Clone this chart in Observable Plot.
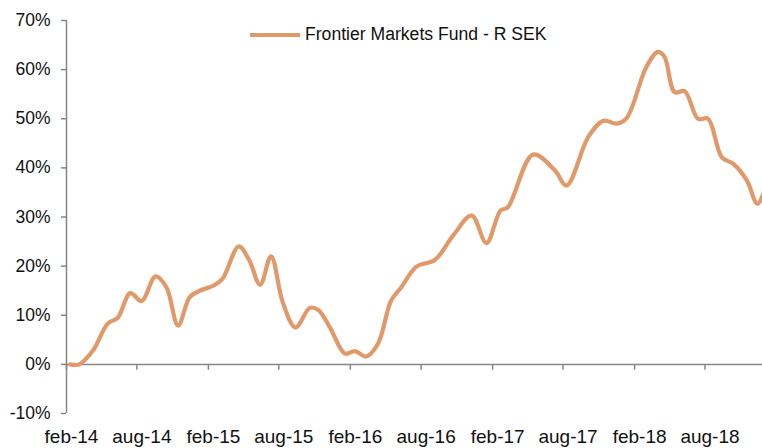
<!DOCTYPE html>
<html><head><meta charset="utf-8">
<script src="https://cdn.jsdelivr.net/npm/d3@7"></script>
<script src="https://cdn.jsdelivr.net/npm/@observablehq/plot@0.6"></script>
<style>
html,body{margin:0;padding:0;background:#fff;}
#wrap{position:relative;width:762px;height:448px;overflow:hidden;font-family:"Liberation Sans",Arial,sans-serif;}
#legend{position:absolute;left:250px;top:24px;display:flex;align-items:center;font-size:17.6px;color:#111;white-space:nowrap;}
#legend svg{margin-right:5px;}
</style></head><body><div id="wrap"><div id="legend"></div></div>
<script>
const seriesName = "Frontier Markets Fund - R SEK";
const seriesColor = "#E2996A";
const dates = ["2014-02-10","2014-03-06","2014-04-10","2014-05-18","2014-06-13","2014-07-15","2014-08-13","2014-09-18","2014-10-16","2014-11-15","2014-12-15","2015-01-10","2015-02-13","2015-03-09","2015-04-20","2015-05-17","2015-06-14","2015-07-12","2015-08-11","2015-09-13","2015-10-20","2015-11-10","2015-12-10","2016-01-18","2016-02-13","2016-03-13","2016-04-12","2016-05-16","2016-06-11","2016-07-20","2016-09-06","2016-10-23","2016-12-09","2017-01-16","2017-02-21","2017-03-12","2017-05-16","2017-07-11","2017-08-10","2017-10-05","2017-11-13","2017-12-17","2018-01-12","2018-03-03","2018-04-02","2018-04-19","2018-05-15","2018-06-10","2018-07-14","2018-08-09","2018-09-13","2018-10-13","2018-11-17","2018-12-14","2019-01-08"];
const values = [0,0,2.8,8.3,9.5,14.5,12.9,17.9,15.7,7.9,13.7,15.0,16.0,17.4,24.0,21.2,16.2,22.0,12.7,7.5,11.5,11.1,7.6,2.2,2.7,1.6,4.2,13.0,15.7,19.9,21.3,26.3,30.3,24.7,31.3,32.0,42.7,39.5,36.4,46.3,49.6,49.0,50.2,60.5,63.6,62.6,55.4,55.6,50.0,50.0,42.2,40.8,37.4,32.7,37.0];
const tickDates = ["2014-02-01","2014-08-01","2015-02-01","2015-08-01","2016-02-01","2016-08-01","2017-02-01","2017-08-01","2018-02-01","2018-08-01"];
const tickLabels = ["feb-14","aug-14","feb-15","aug-15","feb-16","aug-16","feb-17","aug-17","feb-18","aug-18"];
const yTicks = [-10,0,10,20,30,40,50,60,70];
const xStart = "2014-02-01";
const xEnd = "2018-12-27";

const data = dates.map((d, i) => ({date: new Date(d), value: values[i]}));
const ticks = tickDates.map(d => new Date(d));
const labelMap = new Map(ticks.map((d, i) => [+d, tickLabels[i]]));
const axisColor = "#868686";

const chart = Plot.plot({
  width: 762, height: 448,
  marginLeft: 66, marginRight: 0, marginTop: 20, marginBottom: 35,
  style: {fontFamily: '"Liberation Sans", Arial, sans-serif', color: "#111", background: "#fff"},
  x: {type: "utc", domain: [new Date(xStart), new Date(xEnd)]},
  y: {domain: [-10, 70]},
  marks: [
    Plot.axisY({ticks: yTicks, tickSize: 5, tickPadding: 11, tickFormat: d => d + "%", stroke: axisColor, fill: "#111", fontSize: 17.5, label: null, strokeWidth: 1.5}),
    Plot.axisX({ticks: ticks, tickSize: 0, tickPadding: 16, dx: 5, tickFormat: d => labelMap.get(+d), fill: "#111", fontSize: 19, label: null}),
    Plot.ruleX(ticks, {x: d => d, y1: 0, y2: -1.2, stroke: axisColor, strokeWidth: 1.5}),
    Plot.ruleY([0], {stroke: axisColor, strokeWidth: 1.5}),
    Plot.ruleX([new Date(xStart)], {stroke: axisColor, strokeWidth: 1.5}),
    Plot.line(data, {x: "date", y: "value", stroke: seriesColor, strokeWidth: 4.2, curve: "catmull-rom", clip: true})
  ]
});
const wrap = document.getElementById("wrap");
wrap.insertBefore(chart, wrap.firstChild);

const legend = document.getElementById("legend");
legend.innerHTML = `<svg width="50" height="8"><line x1="0" x2="50" y1="4" y2="4" stroke="${seriesColor}" stroke-width="4"/></svg><span>${seriesName}</span>`;
</script></body></html>
